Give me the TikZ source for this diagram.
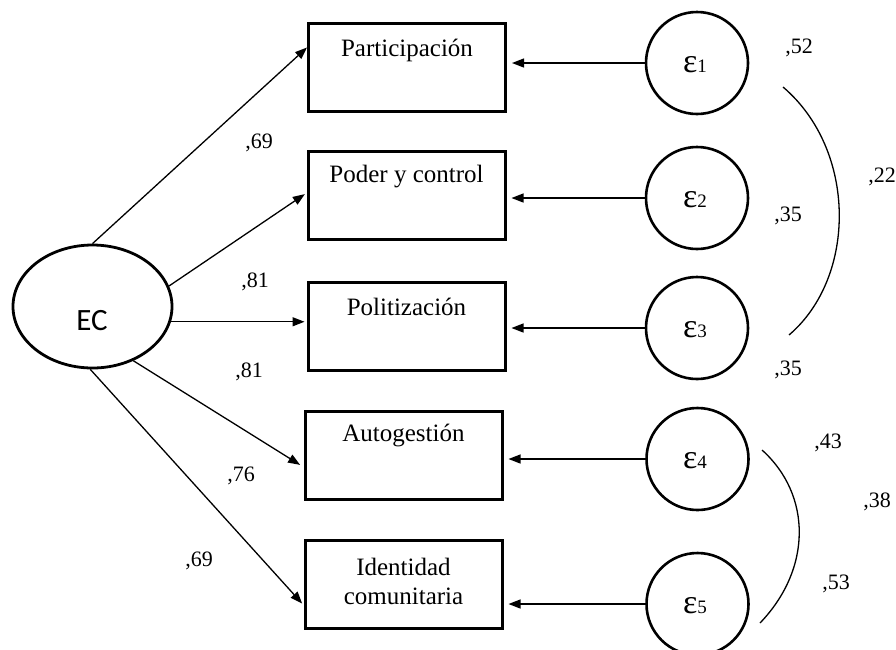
\documentclass[tikz,border=0pt]{standalone}
\usepackage{fontspec}
\setmainfont{Liberation Serif}
\newfontfamily\calib{Carlito}
\usetikzlibrary{arrows.meta,shapes.geometric}
\begin{document}
\begin{tikzpicture}[x=1pt,y=-1pt,
  box/.style={draw, line width=3pt, minimum width=197pt, minimum height=88pt, inner sep=0pt},
  err/.style={draw, circle, line width=2.6pt, minimum size=102pt, inner sep=0pt},
  arr/.style={line width=1.3pt, -{Triangle[length=12pt,width=9pt]}},
  btxt/.style={font=\fontsize{25}{29}\selectfont, align=center, inner sep=0pt},
  coef/.style={font=\fontsize{22}{24}\selectfont, inner sep=0pt},
  etxt/.style={inner sep=0pt},
  cov/.style={line width=1.3pt}
]
\useasboundingbox (0,0) rectangle (896,649);

% latent variable
\node[ellipse, draw, line width=2.8pt, minimum width=159pt, minimum height=123pt, inner sep=0pt] (ec) at (92.5,306.5) {};
\node[font=\calib\fontsize{31}{31}\selectfont, inner sep=0pt] (ect) at (92,321) {EC};

% indicators
\node[box] (b1) at (407,67.5) {};
\node[box] (b2) at (406.5,195) {};
\node[box] (b3) at (406.5,326) {};
\node[box] (b4) at (403.5,455) {};
\node[box] (b5) at (403.5,584) {};
\node[btxt] (t1) at (407,50) {Participación};
\node[btxt] (t2) at (406.5,177) {Poder y control};
\node[btxt] (t3) at (406.5,307) {Politización};
\node[btxt] (t4) at (403.5,435) {Autogestión};
\node[btxt] (t5) at (403.5,581) {Identidad\\comunitaria};

% errors
\node[err] (e1) at (697,63) {};
\node[err] (e2) at (697,198) {};
\node[err] (e3) at (697,328) {};
\node[err] (e4) at (697.5,459) {};
\node[err] (e5) at (697.5,604) {};
\foreach \i/\y in {1/65,2/200,3/330,4/461,5/606}{
  \node[etxt] (et\i) at (695,\y) {\fontsize{34}{34}\selectfont ε\fontsize{19}{19}\selectfont \i};
}

% error arrows
\foreach \i in {1,...,5}{
  \draw[arr, shorten >=5pt] (e\i.west) -- (e\i.west -| b\i.east);
}

% loadings
\draw[arr] (ec.90) -- ([yshift=20pt]b1.west);
\draw[arr, shorten >=2pt] (ec.15) -- ([yshift=2pt]b2.west);
\draw[arr, shorten >=2pt] (ec.-11.4) -- (ec.-11.4 -| b3.west);
\draw[arr, shorten >=4pt] (ec.-53) -- ([yshift=-12pt]b4.west);
\draw[arr, shorten >=2pt] (ec.-92) -- ([yshift=-21pt]b5.west);

% covariances
\coordinate (c1a) at (783,87);
\coordinate (c1b) at (789,335);
\coordinate (c2a) at (762,450);
\coordinate (c2b) at (760,623);
\draw[cov] (c1a) .. controls (857,150) and (857,277) .. (c1b);
\draw[cov] (c2a) .. controls (812,495) and (812,569) .. (c2b);

% coefficients
\node[coef] (l1) at (259,143) {,69};
\node[coef] (l2) at (255,282) {,81};
\node[coef] (l3) at (249,372) {,81};
\node[coef] (l4) at (241,476) {,76};
\node[coef] (l5) at (199,561) {,69};
\node[coef] (r1) at (799,48) {,52};
\node[coef] (r2) at (882,177) {,22};
\node[coef] (r3) at (788,216) {,35};
\node[coef] (r4) at (788,370) {,35};
\node[coef] (r5) at (828,443) {,43};
\node[coef] (r6) at (877,502) {,38};
\node[coef] (r7) at (836,584) {,53};
\end{tikzpicture}
\end{document}
